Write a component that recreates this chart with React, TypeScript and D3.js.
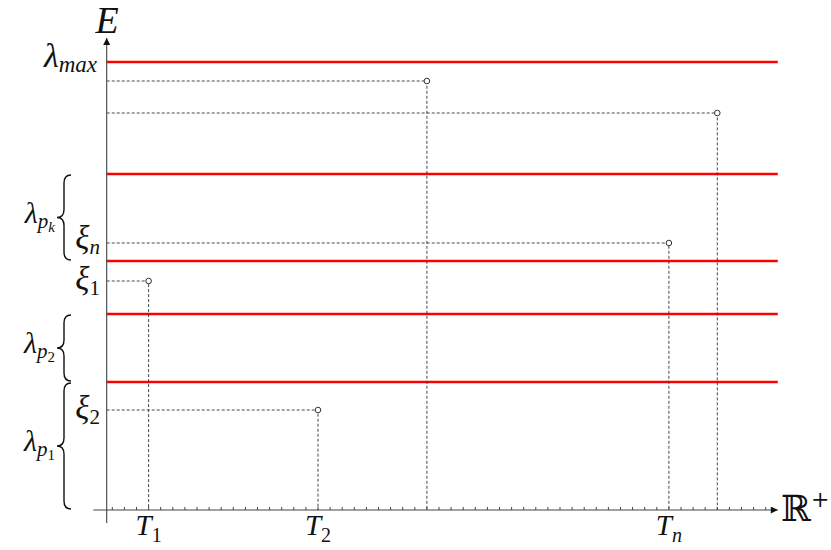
import React, { useEffect, useRef } from 'react';
import * as d3 from 'd3';

// energy levels (red lines), bottom to top
const levels = [128, 196, 249, 336, 448];

// bands marked with braces on the left
const bandFrom = [0, 128, 249];
const bandTo = [128, 196, 336];
const bandSub = ['1', '2', 'k'];

// arrivals: time (tick index) and energy
const arrivalT = [4, 18, 27, 47, 51];
const arrivalE = [229, 100, 429, 267, 397];
const timeLabels = ['1', '2', '', 'n', ''];
const energyLabels = ['1', '2', '', 'n', ''];

const tickValues = d3.range(1, 56);

const width = 831;
const height = 550;
const mathFont = '"Liberation Serif", "DejaVu Serif", serif';

const App: React.FC = () => {
  const svgRef = useRef<SVGSVGElement>(null);

  useEffect(() => {
    if (!svgRef.current) return;
    const svg = d3.select(svgRef.current);
    svg.selectAll('*').remove();

    const x = d3.scaleLinear().domain([0, 56]).range([100.2, 777.8]);
    const y = d3.scaleLinear().domain([0, 472]).range([510, 38]);
    const axisX = 106.7;
    const axisColor = '#444';

    // arrowhead
    const defs = svg.append('defs');
    defs.append('marker')
      .attr('id', 'arrow')
      .attr('viewBox', '0 0 10 10')
      .attr('refX', 10)
      .attr('refY', 5)
      .attr('markerWidth', 9)
      .attr('markerHeight', 7)
      .attr('markerUnits', 'userSpaceOnUse')
      .attr('orient', 'auto')
      .append('path')
      .attr('d', 'M0,0 L10,5 L0,10 z')
      .attr('fill', '#111');

    // red levels
    svg.selectAll('.level')
      .data(levels)
      .enter()
      .append('line')
      .attr('x1', axisX)
      .attr('x2', x(56))
      .attr('y1', d => y(d))
      .attr('y2', d => y(d))
      .attr('stroke', '#ff0000')
      .attr('stroke-width', 2.6);

    // dashed guides
    arrivalT.forEach((t, i) => {
      const px = x(t);
      const py = y(arrivalE[i]);
      svg.append('path')
        .attr('d', `M${axisX},${py} L${px},${py} L${px},${y(0)}`)
        .attr('fill', 'none')
        .attr('stroke', '#333')
        .attr('stroke-width', 0.9)
        .attr('stroke-dasharray', '3,2');
    });

    // axes
    svg.append('line')
      .attr('x1', 93.3).attr('x2', x(56))
      .attr('y1', y(0)).attr('y2', y(0))
      .attr('stroke', axisColor).attr('stroke-width', 1.1)
      .attr('marker-end', 'url(#arrow)');
    svg.append('line')
      .attr('x1', axisX).attr('x2', axisX)
      .attr('y1', 523).attr('y2', y(472))
      .attr('stroke', axisColor).attr('stroke-width', 1.1)
      .attr('marker-end', 'url(#arrow)');

    svg.selectAll('.tick')
      .data(tickValues)
      .enter()
      .append('line')
      .attr('x1', d => x(d)).attr('x2', d => x(d))
      .attr('y1', y(0)).attr('y2', y(0) - 3)
      .attr('stroke', axisColor).attr('stroke-width', 1);

    // points
    svg.selectAll('.pt')
      .data(arrivalT)
      .enter()
      .append('circle')
      .attr('cx', d => x(d))
      .attr('cy', (d, i) => y(arrivalE[i]))
      .attr('r', 2.8)
      .attr('fill', 'white')
      .attr('stroke', '#333')
      .attr('stroke-width', 1);

    // time labels
    arrivalT.forEach((t, i) => {
      if (!timeLabels[i]) return;
      const tx = svg.append('text')
        .attr('x', x(t))
        .attr('y', 535)
        .attr('text-anchor', 'middle')
        .style('font-family', mathFont)
        .style('font-style', 'italic')
        .style('font-size', '29px')
        .style('fill', '#111');
      tx.append('tspan').text('T');
      tx.append('tspan')
        .attr('dy', 7)
        .style('font-size', '20px')
        .style('font-style', timeLabels[i] === 'n' ? 'italic' : 'normal')
        .text(timeLabels[i]);
    });

    // energy labels (xi)
    arrivalE.forEach((e, i) => {
      if (!energyLabels[i]) return;
      const tx = svg.append('text')
        .attr('x', 100)
        .attr('y', y(e) + (energyLabels[i] === 'n' ? 6 : 9))
        .attr('text-anchor', 'end')
        .style('font-family', mathFont)
        .style('font-style', 'italic')
        .style('font-size', '33px')
        .style('fill', '#111');
      tx.append('tspan').text('ξ');
      tx.append('tspan')
        .attr('dy', 5)
        .style('font-size', '21px')
        .style('font-style', energyLabels[i] === 'n' ? 'italic' : 'normal')
        .text(energyLabels[i]);
    });

    // lambda max
    const lm = svg.append('text')
      .attr('x', 97)
      .attr('y', y(levels[levels.length - 1]) + 5)
      .attr('text-anchor', 'end')
      .style('font-family', mathFont)
      .style('font-style', 'italic')
      .style('font-size', '34px')
      .style('fill', '#111');
    lm.append('tspan').text('λ');
    lm.append('tspan').attr('dy', 5).style('font-size', '23px').text('max');

    // braces
    bandFrom.forEach((b0, i) => {
      const yTop = y(bandTo[i]) + 1;
      const yBot = y(b0) - 1;
      const ym = (yTop + yBot) / 2;
      const xr = 71, xm = 64, xt = 57, r = 8;
      svg.append('path')
        .attr('d', `M${xr},${yTop} Q${xm},${yTop} ${xm},${yTop + r} L${xm},${ym - r} Q${xm},${ym} ${xt},${ym} Q${xm},${ym} ${xm},${ym + r} L${xm},${yBot - r} Q${xm},${yBot} ${xr},${yBot}`)
        .attr('fill', 'none')
        .attr('stroke', '#111')
        .attr('stroke-width', 1.4);

      const tx = svg.append('text')
        .attr('x', 55)
        .attr('y', ym + 5)
        .attr('text-anchor', 'end')
        .style('font-family', mathFont)
        .style('font-style', 'italic')
        .style('font-size', '30px')
        .style('fill', '#111');
      tx.append('tspan').text('λ');
      tx.append('tspan').attr('dy', 5).style('font-size', '21px').text('p');
      tx.append('tspan')
        .attr('dy', 4)
        .style('font-size', '15px')
        .style('font-style', bandSub[i] === 'k' ? 'italic' : 'normal')
        .text(bandSub[i]);
    });

    // axis names
    svg.append('text')
      .attr('x', 107)
      .attr('y', 33)
      .attr('text-anchor', 'middle')
      .style('font-family', mathFont)
      .style('font-style', 'italic')
      .style('font-size', '38px')
      .style('fill', '#111')
      .text('E');

    const rp = svg.append('text')
      .attr('x', 781)
      .attr('y', 521)
      .style('font-family', '"DejaVu Serif", "DejaVu Sans", serif')
      .style('font-size', '36px')
      .style('fill', '#111');
    rp.append('tspan').text('ℝ');
    rp.append('tspan').attr('dy', -14).style('font-size', '22px').text('+');
  }, []);

  return (
    <svg
      ref={svgRef}
      width={width}
      height={height}
      style={{ position: 'absolute', left: 0, top: 0, background: 'white' }}
    />
  );
};

export default App;
